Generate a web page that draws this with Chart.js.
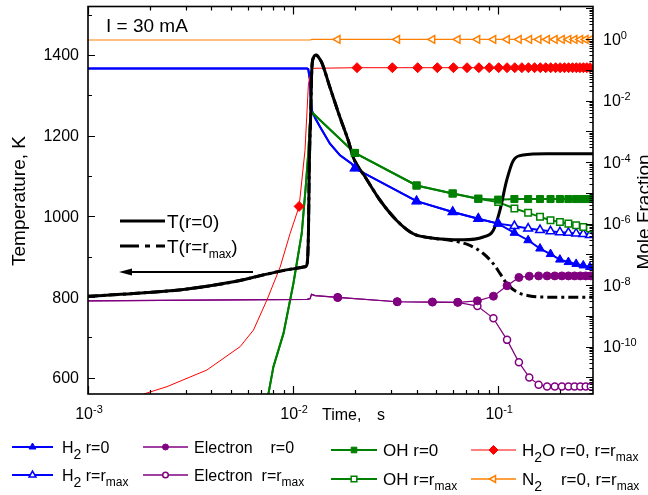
<!DOCTYPE html>
<html>
<head>
<meta charset="utf-8">
<script src="https://cdn.jsdelivr.net/npm/chart.js@4.4.1/dist/chart.umd.min.js"></script>
<style>
html,body{margin:0;padding:0;background:#fff}
#wrap{width:648px;height:495px}
</style>
</head>
<body>
<div id="wrap"><canvas id="chart" width="648" height="495"></canvas></div>
<script>
// ---- temperature (left axis), time in s ----
var tempT = [0.001,0.00167,0.00292,0.00512,0.00745,0.01,0.01143,0.0117,0.01188,0.0120,0.01219,0.01233,0.01256,0.01295,0.01328,0.0138,0.01514,0.01694,0.01858,0.01966,0.02057,0.02198,0.02655,0.032,0.03854,0.04648,0.0676,0.0846,0.0946,0.102,0.11,0.1184,0.1324,0.172,0.29];
var tempR0 = [802,809,819,838,857,870,875,882,957,1130,1254,1360,1393,1400,1395,1381,1319,1245,1188,1146,1126,1105,1040,990,957,947,942,949,965,1015,1089,1138,1152,1155,1155];
var tempMaxT = [0.001,0.00167,0.00292,0.00512,0.00745,0.01,0.01143,0.0117,0.01188,0.0120,0.01219,0.01233,0.01256,0.01295,0.01328,0.0138,0.01514,0.01694,0.01858,0.01966,0.02057,0.02198,0.02655,0.032,0.03854,0.04648,0.0582,0.0728,0.0846,0.0946,0.102,0.11,0.123,0.1427,0.172,0.29];
var tempRmax = [802,809,819,838,857,870,875,882,957,1130,1254,1360,1393,1400,1395,1381,1319,1245,1188,1146,1126,1105,1040,990,957,947,941,928,908,883,859,834,813,803,800,800];

// ---- mole fractions (right axis), stored as log10 of the value ----
// marker times
var t20 = [0.02,0.04,0.06,0.08,0.10,0.12,0.14,0.16,0.18,0.20,0.22,0.24,0.26,0.28];
var t10 = [0.0107,0.0205,0.0305,0.0405,0.0505,0.0605,0.0705,0.0805,0.0905,0.1005,0.1105,0.1205,0.1305,0.1405,0.1505,0.1605,0.1705,0.1805,0.1905,0.2005,0.2105,0.2205,0.2305,0.2405,0.2505,0.2605,0.2705,0.2805];
var t16 = [0.0165,0.0322,0.0478,0.0635,0.0792,0.0948,0.1105,0.1262,0.1418,0.1575,0.1732,0.1888,0.2045,0.2202,0.2358,0.2515,0.2672,0.2828];

var h2R0 = [-4.2,-5.27,-5.62,-5.84,-6.0,-6.3,-6.54,-6.81,-6.99,-7.17,-7.25,-7.31,-7.36,-7.41];
var h2Rmax = [-4.2,-5.27,-5.62,-5.84,-6.0,-6.08,-6.16,-6.21,-6.25,-6.28,-6.3,-6.32,-6.34,-6.37];
var ohR0 = [-3.7,-4.76,-5.02,-5.19,-5.22,-5.2,-5.2,-5.2,-5.2,-5.2,-5.2,-5.2,-5.2,-5.2];
var ohRmax = [-3.7,-4.76,-5.02,-5.19,-5.3,-5.51,-5.65,-5.78,-5.89,-5.95,-6.0,-6.05,-6.11,-6.16];
var h2o = [-5.44,-0.93,-0.93,-0.93,-0.93,-0.93,-0.93,-0.93,-0.93,-0.93,-0.93,-0.93,-0.93,-0.93,-0.93,-0.93,-0.93,-0.93,-0.93,-0.93,-0.93,-0.93,-0.93,-0.93,-0.93,-0.93,-0.93,-0.93];
var n2 = [-0.01,-0.01,-0.01,-0.01,-0.01,-0.01,-0.01,-0.01,-0.01,-0.01,-0.01,-0.01,-0.01,-0.01,-0.01,-0.01,-0.01,-0.01];
var elR0 = [-8.4,-8.54,-8.55,-8.56,-8.51,-8.36,-8.02,-7.75,-7.71,-7.7,-7.7,-7.7,-7.7,-7.7,-7.7,-7.7,-7.7,-7.7];
var elRmax = [-8.4,-8.54,-8.55,-8.56,-8.68,-9.08,-9.78,-10.51,-11.0,-11.24,-11.3,-11.3,-11.3,-11.3,-11.3,-11.3,-11.3,-11.3];

// extra points between markers (line shape only)
var h2CurveT = [0.001,0.0117,0.01186,0.0121,0.01219,0.01233,0.01287,0.01355,0.01513,0.01694,0.0193,0.29];
var h2R0Curve = [-0.96,-0.96,-0.98,-1.35,-1.89,-2.32,-2.59,-2.86,-3.4,-3.78,-4.05,-7.43];
var h2RmaxCurve = [-0.96,-0.96,-0.98,-1.35,-1.89,-2.32,-2.59,-2.86,-3.4,-3.78,-4.05,-6.38];
var ohCurveT = [0.00758,0.00802,0.00898,0.01004,0.01102,0.01156,0.01188,0.0121,0.01233,0.29];
var ohR0Curve = [-11.54,-10.65,-9.57,-7.94,-6.32,-4.7,-3.62,-2.65,-2.38,-5.2];
var ohRmaxCurve = [-11.54,-10.65,-9.57,-7.94,-6.32,-4.7,-3.62,-2.65,-2.38,-6.18];
var h2oCurveT = [0.00187,0.00243,0.0038,0.00552,0.00641,0.00745,0.00865,0.00967,0.01143,0.01188,0.01233,0.29];
var h2oCurve = [-11.54,-11.3,-10.76,-10.0,-9.46,-8.49,-7.41,-6.32,-3.62,-1.46,-0.95,-0.93];
var n2CurveT = [0.001,0.0121,0.0124,0.29];
var n2Curve = [-0.03,-0.03,-0.01,-0.01];
var elCurveT = [0.001,0.0117,0.0121,0.0123,0.0128,0.29];
var elR0Curve = [-8.51,-8.46,-8.44,-8.3,-8.34,-7.7];
var elRmaxCurve = [-8.51,-8.46,-8.44,-8.3,-8.34,-11.3];

// axis ticks
var xMajor = [0.001,0.01,0.1];
var xLabelExp = ['-3','-2','-1'];
var tempMajor = [600,800,1000,1200,1400];
var tempMinor = [700,900,1100,1300,1500];
var fracLabelExp = [0,-2,-4,-6,-8,-10];

var BLUE = '#0000ff', GREEN = '#008000', RED = '#ff0000', PURPLE = '#800080', ORANGE = '#ff8000';
var FONT = '"Liberation Sans", Arial, sans-serif';

function pts(t, v) { return t.map(function (x, i) { return {x: x, y: v[i]}; }); }
function fpts(t, v) { return t.map(function (x, i) { return {x: x, y: Math.pow(10, v[i])}; }); }
function merge(a, b) { return a.concat(b).sort(function (p, q) { return p.x - q.x; }); }

function lineSet(data, color, w) {
    return {data: data, yAxisID: 'y2', borderColor: color, borderWidth: w, pointRadius: 0, tension: 0, fill: false, order: 3};
}
function markSet(data, color, style, r, open, rot) {
    return {data: data, yAxisID: 'y2', showLine: false, pointStyle: style, pointRadius: r, pointRotation: rot || 0,
        pointBackgroundColor: open ? '#fff' : color, pointBorderColor: color, pointBorderWidth: open ? 1.5 : 1,
        order: open ? 0.5 : 0};
}

var datasets = [
    lineSet(merge(fpts(n2CurveT, n2Curve), fpts(t16, n2)), ORANGE, 1.2),
    lineSet(merge(fpts(h2oCurveT, h2oCurve), fpts(t10, h2o)), RED, 1),
    lineSet(merge(fpts(elCurveT, elRmaxCurve), fpts(t16, elRmax)), PURPLE, 1.2),
    lineSet(merge(fpts(elCurveT, elR0Curve), fpts(t16, elR0)), PURPLE, 1.2),
    lineSet(merge(fpts(ohCurveT, ohRmaxCurve), fpts(t20, ohRmax)), GREEN, 2),
    lineSet(merge(fpts(ohCurveT, ohR0Curve), fpts(t20, ohR0)), GREEN, 2),
    lineSet(merge(fpts(h2CurveT, h2RmaxCurve), fpts(t20, h2Rmax)), BLUE, 2),
    lineSet(merge(fpts(h2CurveT, h2R0Curve), fpts(t20, h2R0)), BLUE, 2),
    {data: pts(tempMaxT, tempRmax), yAxisID: 'y', borderColor: '#000', borderWidth: 3, borderDash: [10, 4, 3, 4], pointRadius: 0, cubicInterpolationMode: 'monotone', order: 2},
    {data: pts(tempT, tempR0), yAxisID: 'y', borderColor: '#000', borderWidth: 3, pointRadius: 0, cubicInterpolationMode: 'monotone', order: 1},
    markSet(fpts(t16, n2), ORANGE, 'triangle', 4.5, true, -90),
    markSet(fpts(t10, h2o), RED, 'rectRot', 5, false),
    markSet(fpts(t16, elRmax), PURPLE, 'circle', 3.5, true),
    markSet(fpts(t16, elR0), PURPLE, 'circle', 4, false),
    markSet(fpts(t20, ohRmax), GREEN, 'rect', 4.6, true),
    markSet(fpts(t20, ohR0), GREEN, 'rect', 5, false),
    markSet(fpts(t20, h2Rmax), BLUE, 'triangle', 5, true),
    markSet(fpts(t20, h2R0), BLUE, 'triangle', 5, false)
];

// text with sub/superscripts: parts = [[text, kind]], kind '', 'sup', 'sub', 'subs'
function rich(ctx, parts, x, y, size, align) {
    var spec = parts.map(function (p) {
        var k = p[1] || '';
        var s = k === 'sup' ? 11 : k === 'sub' ? 14 : k === 'subs' ? 12 : size;
        var dy = k === 'sup' ? -6 : k === 'sub' ? 6 : k === 'subs' ? 5 : 0;
        ctx.font = s + 'px ' + FONT;
        return {t: p[0], f: ctx.font, dy: dy, w: ctx.measureText(p[0]).width};
    });
    var w = spec.reduce(function (a, s) { return a + s.w; }, 0);
    var cx = align === 'center' ? x - w / 2 : align === 'right' ? x - w : x;
    ctx.textAlign = 'left';
    ctx.textBaseline = 'alphabetic';
    spec.forEach(function (s) {
        ctx.font = s.f;
        ctx.fillText(s.t, cx, y + s.dy);
        cx += s.w;
    });
}

var legendCols = [[12, 53, 62], [143, 188, 194], [331, 377, 383], [471, 516, 522]];
var legendRows = [[447, 475], [447, 475], [450, 479], [450, 479]];
var legendItems = [
    {c: 0, r: 0, color: BLUE, lw: 2, style: 'triangle', rad: 4, open: false, size: 16, parts: [['H'], ['2', 'sub'], [' r=0']]},
    {c: 0, r: 1, color: BLUE, lw: 2, style: 'triangle', rad: 4, open: true, size: 16, parts: [['H'], ['2', 'sub'], [' r=r'], ['max', 'subs']]},
    {c: 1, r: 0, color: PURPLE, lw: 1.5, style: 'circle', rad: 3, open: false, size: 16, parts: [['Electron    r=0']]},
    {c: 1, r: 1, color: PURPLE, lw: 1.5, style: 'circle', rad: 2.8, open: true, size: 16, parts: [['Electron  r=r'], ['max', 'subs']]},
    {c: 2, r: 0, color: GREEN, lw: 2, style: 'rect', rad: 4, open: false, size: 17, parts: [['OH r=0']]},
    {c: 2, r: 1, color: GREEN, lw: 2, style: 'rect', rad: 4, open: true, size: 17, parts: [['OH r=r'], ['max', 'subs']]},
    {c: 3, r: 0, color: RED, lw: 1, style: 'rectRot', rad: 4.5, open: false, size: 17, parts: [['H'], ['2', 'sub'], ['O r=0, r=r'], ['max', 'subs']]},
    {c: 3, r: 1, color: ORANGE, lw: 1.5, style: 'triangle', rad: 4, open: true, rot: -90, size: 17, parts: [['N'], ['2', 'sub'], ['    r=0, r=r'], ['max', 'subs']]}
];

function marker(ctx, style, x, y, r, rot, color, open) {
    ctx.fillStyle = open ? '#fff' : color;
    ctx.strokeStyle = color;
    ctx.lineWidth = open ? 1.5 : 1;
    ctx.setLineDash([]);
    Chart.helpers.drawPoint(ctx, {pointStyle: style, radius: r, rotation: rot || 0, borderWidth: ctx.lineWidth}, x, y);
}

var decor = {
    id: 'decor',
    afterDraw: function (chart) {
        var ctx = chart.ctx, a = chart.chartArea;
        var sx = chart.scales.x, sy = chart.scales.y, sf = chart.scales.y2;
        ctx.save();
        ctx.fillStyle = '#000';
        ctx.strokeStyle = '#000';

        // ticks
        ctx.lineWidth = 1.2;
        ctx.beginPath();
        for (var d = -3; d <= -1; d++) {
            for (var m = 1; m <= 9; m++) {
                var v = m * Math.pow(10, d);
                if (v > sx.max * 1.0001) break;
                var px = Math.round(sx.getPixelForValue(v)) + 0.5, len = m === 1 ? 8 : 4;
                ctx.moveTo(px, a.bottom); ctx.lineTo(px, a.bottom - len);
                ctx.moveTo(px, a.top); ctx.lineTo(px, a.top + len);
            }
        }
        tempMajor.forEach(function (v) {
            var py = Math.round(sy.getPixelForValue(v)) + 0.5;
            ctx.moveTo(a.left, py); ctx.lineTo(a.left + 7, py);
        });
        tempMinor.forEach(function (v) {
            var py = Math.round(sy.getPixelForValue(v)) + 0.5;
            ctx.moveTo(a.left, py); ctx.lineTo(a.left + 4, py);
        });
        for (var e = -12; e <= 1; e++) {
            for (var k = 1; k <= 9; k++) {
                var fv = k * Math.pow(10, e);
                if (fv < sf.min || fv > sf.max) continue;
                var fy = Math.round(sf.getPixelForValue(fv)) + 0.5;
                ctx.moveTo(a.right, fy); ctx.lineTo(a.right - (k === 1 ? 7 : 3.5), fy);
            }
        }
        ctx.stroke();

        // frame
        ctx.lineWidth = 1.6;
        ctx.strokeRect(a.left, a.top, a.right - a.left, a.bottom - a.top);

        // tick labels
        ctx.font = '16px ' + FONT;
        ctx.textAlign = 'right';
        ctx.textBaseline = 'middle';
        tempMajor.forEach(function (v) {
            ctx.fillText(String(v), a.left - 9, sy.getPixelForValue(v) + 1);
        });
        xMajor.forEach(function (v, i) {
            rich(ctx, [['10'], [xLabelExp[i], 'sup']], sx.getPixelForValue(v) + 1, 419, 16, 'center');
        });
        fracLabelExp.forEach(function (e) {
            rich(ctx, [['10'], [String(e), 'sup']], a.right + 10, sf.getPixelForValue(Math.pow(10, e)) + 5.5, 16, 'left');
        });

        // axis titles
        ctx.font = '16px ' + FONT;
        ctx.textAlign = 'left';
        ctx.textBaseline = 'alphabetic';
        ctx.fillText('Time,', 322, 420);
        ctx.fillText('s', 377, 420);
        ctx.font = '19px ' + FONT;
        ctx.textAlign = 'center';
        ctx.save();
        ctx.translate(25, 201); ctx.rotate(-Math.PI / 2);
        ctx.fillText('Temperature, K', 0, 0);
        ctx.restore();
        ctx.save();
        ctx.translate(650, 212); ctx.rotate(-Math.PI / 2);
        ctx.fillText('Mole Fraction', 0, 0);
        ctx.restore();

        // annotation + temperature key
        ctx.textAlign = 'left';
        ctx.fillText('I = 30 mA', 106, 32);
        ctx.lineWidth = 3;
        ctx.beginPath(); ctx.moveTo(120, 221); ctx.lineTo(165, 221); ctx.stroke();
        ctx.setLineDash([19, 6, 5, 6]);
        ctx.beginPath(); ctx.moveTo(120, 246); ctx.lineTo(165, 246); ctx.stroke();
        ctx.setLineDash([]);
        rich(ctx, [['T(r=0)']], 167, 228, 19, 'left');
        rich(ctx, [['T(r=r'], ['max', 'subs'], [')']], 167, 253, 19, 'left');
        ctx.lineWidth = 2;
        ctx.beginPath(); ctx.moveTo(253, 272); ctx.lineTo(128, 272); ctx.stroke();
        ctx.beginPath(); ctx.moveTo(119, 272); ctx.lineTo(132, 268.5); ctx.lineTo(132, 275.5); ctx.closePath(); ctx.fill();

        // species legend
        legendItems.forEach(function (it) {
            var col = legendCols[it.c], y = legendRows[it.c][it.r];
            ctx.strokeStyle = it.color;
            ctx.lineWidth = it.lw;
            ctx.beginPath(); ctx.moveTo(col[0], y); ctx.lineTo(col[1], y); ctx.stroke();
            marker(ctx, it.style, (col[0] + col[1]) / 2, y, it.rad, it.rot, it.color, it.open);
            ctx.fillStyle = '#000';
            rich(ctx, it.parts, col[2], y + 6, it.size, 'left');
        });
        ctx.restore();
    }
};

var ctx1 = document.getElementById('chart').getContext('2d');
new Chart(ctx1, {
    type: 'line',
    data: {datasets: datasets},
    options: {
        responsive: false,
        animation: false,
        layout: {padding: {left: 88, right: 55, top: 6, bottom: 101}},
        plugins: {legend: {display: false}, tooltip: {enabled: false}},
        scales: {
            x: {type: 'logarithmic', min: 0.001, max: 0.29, display: false},
            y: {type: 'linear', position: 'left', min: 560, max: 1520, display: false},
            y2: {type: 'logarithmic', position: 'right', min: Math.pow(10, -11.54), max: Math.pow(10, 1.06), display: false}
        }
    },
    plugins: [decor]
});
</script>
</body>
</html>
